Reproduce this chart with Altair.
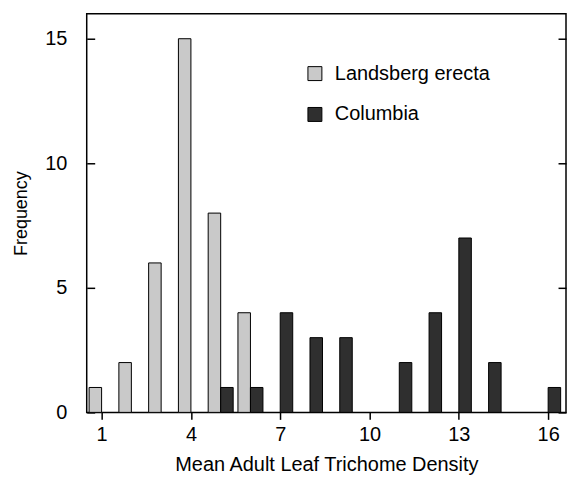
import altair as alt
import pandas as pd

ler_values = [1, 2, 3, 4, 5, 6]
ler_counts = [1, 2, 6, 15, 8, 4]
col_values = [5, 6, 7, 8, 9, 11, 12, 13, 14, 16]
col_counts = [1, 1, 4, 3, 3, 2, 4, 7, 2, 1]
series = ["Landsberg erecta", "Columbia"]
x_ticks = [1, 4, 7, 10, 13, 16]
y_ticks = [0, 5, 10, 15]

rows = []
for v, c in zip(ler_values, ler_counts):
    rows.append({"density": v, "count": c, "line": series[0], "side": -1})
for v, c in zip(col_values, col_counts):
    rows.append({"density": v, "count": c, "line": series[1], "side": 1})
df = pd.DataFrame(rows)

FONT = "Liberation Sans"
BW = 0.42

base = alt.Chart(df).transform_calculate(
    x0=f"datum.side < 0 ? datum.density - {BW} : datum.density",
    x1=f"datum.side < 0 ? datum.density : datum.density + {BW}",
)

xscale = alt.Scale(domain=[0.5, 16.6], nice=False, zero=False)
yscale = alt.Scale(domain=[0, 16], nice=False)

bars = base.mark_bar(stroke="black", strokeWidth=1).encode(
    x=alt.X("x0:Q", scale=xscale,
            axis=alt.Axis(values=x_ticks, title="Mean Adult Leaf Trichome Density",
                          tickSize=7, tickWidth=1.5, tickColor="black", domain=False,
                          grid=False, labelFontSize=20, labelFont=FONT, labelColor="black",
                          labelPadding=5, titleFontSize=20, titleFont=FONT,
                          titleFontWeight="normal", titleColor="black", titlePadding=10,
                          format="d")),
    x2="x1:Q",
    y=alt.Y("count:Q", scale=yscale,
            axis=alt.Axis(values=y_ticks, title="Frequency", orient="left", offset=-8,
                          tickSize=8, tickWidth=1.5, tickColor="black", domain=False,
                          grid=False, labelFontSize=20, labelFont=FONT, labelColor="black",
                          labelPadding=20, titleFontSize=18, titleFont=FONT,
                          titleFontWeight="normal", titleColor="black", titlePadding=14)),
    y2=alt.datum(0),
    color=alt.Color("line:N", scale=alt.Scale(domain=series, range=["#c9c9c9", "#2f2f2f"]),
                    sort=series,
                    legend=alt.Legend(title=None, orient="none", legendX=219, legendY=50,
                                      symbolType="square", symbolSize=196,
                                      symbolStrokeColor="black", symbolStrokeWidth=1,
                                      labelFontSize=20, labelFont=FONT, labelColor="black",
                                      rowPadding=21, labelOffset=10, padding=0)),
)

rticks = base.mark_bar(opacity=0).encode(
    x=alt.X("x0:Q", scale=xscale),
    x2="x1:Q",
    y=alt.Y("count:Q", scale=yscale,
            axis=alt.Axis(values=y_ticks, orient="right", offset=-8, tickSize=8,
                          tickWidth=1.5, tickColor="black", labels=False, domain=False,
                          grid=False, title=None)),
    y2=alt.datum(0),
)

chart = alt.layer(bars, rticks).resolve_axis(y="independent").properties(
    width=481, height=400, padding={"left": 4, "top": 5, "right": 0, "bottom": 0}
).configure(background="white").configure_view(stroke="black", strokeWidth=1.5)

chart.save("out.html", embed_options={"renderer": "svg", "actions": False})
